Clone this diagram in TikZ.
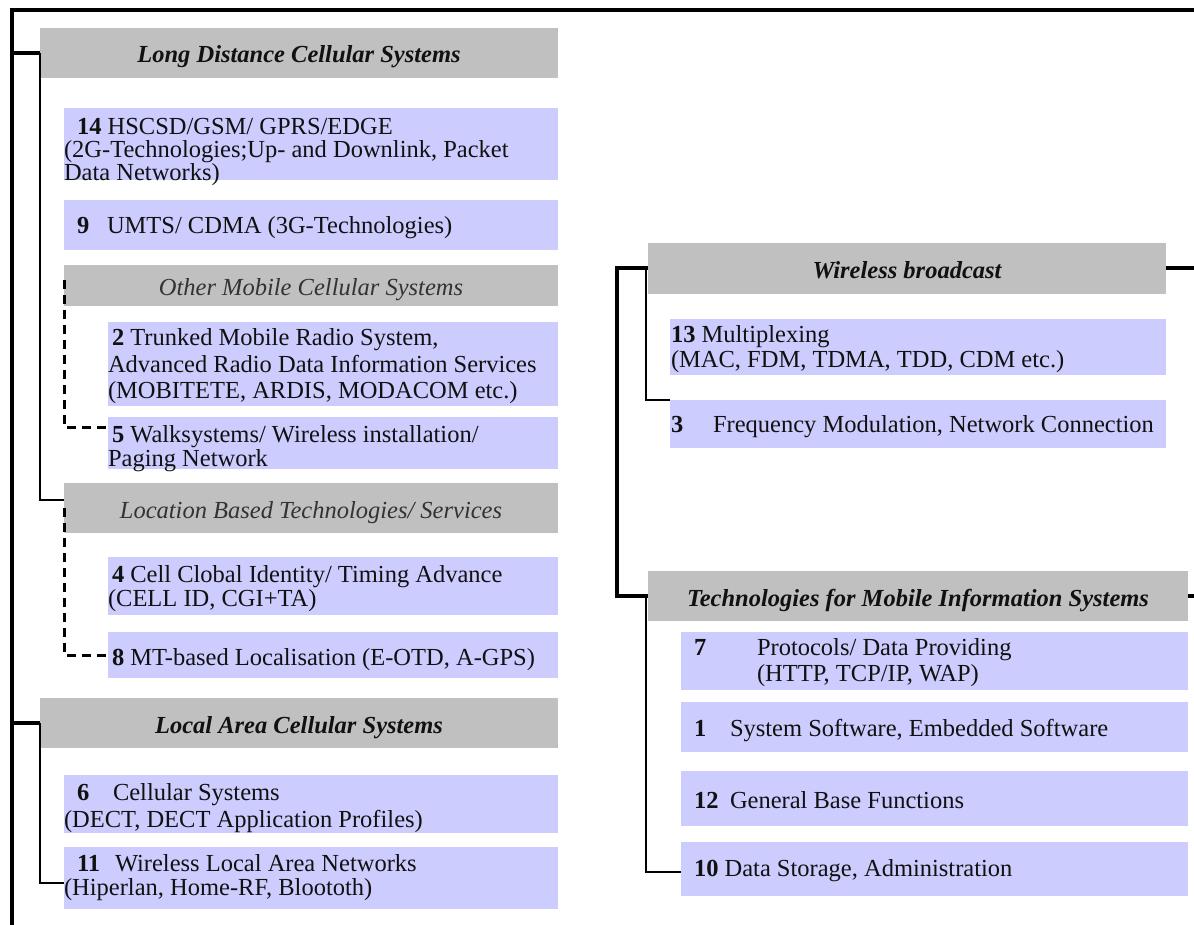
\documentclass[tikz,border=0pt]{standalone}
\usepackage{fontspec}
\setmainfont{Liberation Serif}
\definecolor{hdrgray}{HTML}{C0C0C0}
\definecolor{lav}{HTML}{CCCCFF}
\definecolor{ink}{HTML}{111111}
\definecolor{subink}{HTML}{333333}
\newcommand{\nb}[2]{\makebox[#1][l]{\textbf{#2}}}
\begin{document}
\begin{tikzpicture}[x=1pt,y=-1pt,
  font=\fontsize{24.5}{28}\selectfont,
  hdr/.style={fill=hdrgray,draw=none,inner sep=0,outer sep=0,anchor=north west,text=ink,text height=20pt,text depth=0pt},
  mainhdr/.style={hdr,font=\fontsize{24.5}{28}\selectfont\bfseries\itshape},
  subhdr/.style={hdr,font=\fontsize{24.5}{28}\selectfont\itshape,text=subink},
  item/.style={fill=lav,draw=none,inner sep=0,outer sep=0,anchor=north west},
  txt/.style={anchor=base west,inner sep=0,outer sep=0,text=ink,text height=16pt,text depth=4pt},
  spine/.style={line width=4pt,draw=black},
  branch/.style={line width=1.5pt,draw=black},
  dashline/.style={line width=3pt,draw=black,dash pattern=on 9pt off 6pt}]
\useasboundingbox (0,0) rectangle (1194,925);
% ---------- left column boxes
\node[mainhdr,minimum width=518,minimum height=50] (ld) at (40,28) {Long Distance Cellular Systems};
\node[item,minimum width=494,minimum height=72] (i14) at (64,108) {};
\node[item,minimum width=494,minimum height=50] (i9) at (64,200) {};
\node[subhdr,minimum width=494,minimum height=41] (om) at (64,265) {Other Mobile Cellular Systems};
\node[item,minimum width=450,minimum height=84] (i2) at (108,322) {};
\node[item,minimum width=450,minimum height=52] (i5) at (108,417) {};
\node[subhdr,minimum width=494,minimum height=50] (loc) at (64,483) {Location Based Technologies/ Services};
\node[item,minimum width=450,minimum height=58] (i4) at (108,557) {};
\node[item,minimum width=450,minimum height=46] (i8) at (108,632) {};
\node[mainhdr,minimum width=518,minimum height=50] (lac) at (40,698) {Local Area Cellular Systems};
\node[item,minimum width=494,minimum height=58] (i6) at (64,775) {};
\node[item,minimum width=494,minimum height=62] (i11) at (64,847) {};
% ---------- right column boxes
\node[mainhdr,minimum width=518,minimum height=51] (wb) at (648,243) {Wireless broadcast};
\node[item,minimum width=496,minimum height=56] (i13) at (670,319) {};
\node[item,minimum width=496,minimum height=48] (i3) at (670,400) {};
\node[mainhdr,minimum width=540,minimum height=50] (tm) at (648,571) {Technologies for Mobile Information Systems};
\node[item,minimum width=507,minimum height=58] (i7) at (681,632) {};
\node[item,minimum width=507,minimum height=50] (i1) at (681,702) {};
\node[item,minimum width=507,minimum height=55] (i12) at (681,771) {};
\node[item,minimum width=507,minimum height=54] (i10) at (681,842) {};
% ---------- texts
\node[txt] (t14a) at (77,135) {\textbf{14} HSCSD/GSM/ GPRS/EDGE};
\node[txt] (t14b) at (64,158) {(2G-Technologies;Up- and Downlink, Packet};
\node[txt] (t14c) at (64,181) {Data Networks)};
\node[txt] (t9) at (77,234) {\nb{30pt}{9}UMTS/ CDMA (3G-Technologies)};
\node[txt] (t2a) at (112,345) {\textbf{2} Trunked Mobile Radio System,};
\node[txt] (t2b) at (108,372) {Advanced Radio Data Information Services};
\node[txt] (t2c) at (108,398) {(MOBITETE, ARDIS, MODACOM etc.)};
\node[txt] (t5a) at (112,442) {\textbf{5} Walksystems/ Wireless installation/};
\node[txt] (t5b) at (108,466) {Paging Network};
\node[txt] (t4a) at (112,582) {\textbf{4} Cell Clobal Identity/ Timing Advance};
\node[txt] (t4b) at (108,606) {(CELL ID, CGI+TA)};
\node[txt] (t8) at (112,665) {\textbf{8} MT-based Localisation (E-OTD, A-GPS)};
\node[txt] (t6a) at (77,800) {\nb{36pt}{6}Cellular Systems};
\node[txt] (t6b) at (64,827) {(DECT, DECT Application Profiles)};
\node[txt] (t11a) at (77,871) {\nb{38pt}{11}Wireless Local Area Networks};
\node[txt] (t11b) at (64,895) {(Hiperlan, Home-RF, Bloototh)};
\node[txt] (t13a) at (671,342) {\textbf{13} Multiplexing};
\node[txt] (t13b) at (671,367) {(MAC, FDM, TDMA, TDD, CDM etc.)};
\node[txt] (t3) at (671,432) {\nb{42pt}{3}Frequency Modulation, Network Connection};
\node[txt] (t7n) at (694,655) {\textbf{7}};
\node[txt] (t7a) at (757,655) {Protocols/ Data Providing};
\node[txt] (t7b) at (757,681) {(HTTP, TCP/IP, WAP)};
\node[txt] (t1) at (694,736) {\nb{36pt}{1}System Software, Embedded Software};
\node[txt] (t12) at (694,808) {\nb{36pt}{12}General Base Functions};
\node[txt] (t10) at (694,876) {\textbf{10} Data Storage, Administration};
% ---------- connectors
\coordinate (tl) at (12,10);
\coordinate (tr) at (1194,10);
\coordinate (bl) at (12,925);
\draw[spine] (tr) -- (tl) -- (bl);
\draw[spine] (ld.west) -- (ld.west -| tl);
\draw[spine] (lac.west) -- (lac.west -| tl);
\draw[branch] (ld.west) |- ([yshift=-17pt]loc.north west);
\draw[branch] (lac.west) |- ([yshift=-36pt]i11.north west);
\draw[dashline] ([yshift=-15pt]om.north west) |- ([yshift=-10pt]i5.north west);
\draw[dashline] ([yshift=-25pt]loc.north west) |- (i8.west);
\draw[spine] (wb.west) -- ([xshift=-31pt]wb.west) |- (tm.west);
\draw[spine] (wb.east) -- (wb.east -| tr);
\draw[spine] (tm.east) -- (tm.east -| tr);
\draw[branch] ([xshift=-2pt]wb.west) |- (i3.north west);
\draw[branch] ([xshift=-2pt]tm.west) |- ([yshift=-30pt]i10.north west);
\end{tikzpicture}
\end{document}
